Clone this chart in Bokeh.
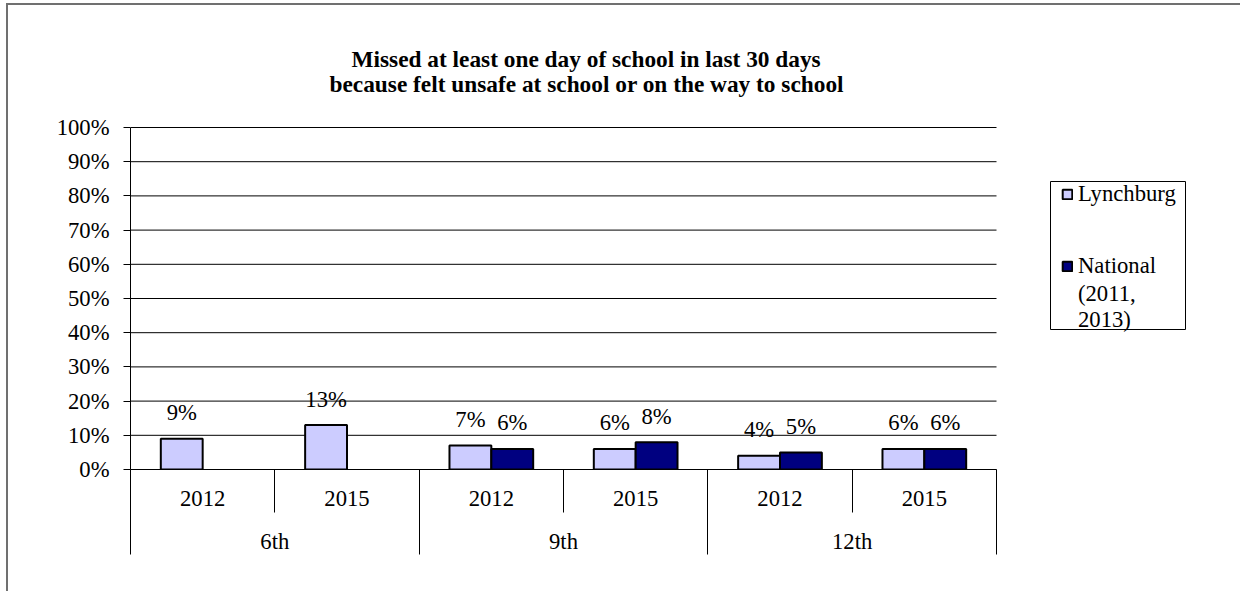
from bokeh.plotting import figure
from bokeh.models import (Range1d, FixedTicker, LinearAxis, Legend, LegendItem, ColumnDataSource,
                          Title, BoxAnnotation)
from bokeh.embed import file_html
from bokeh.resources import INLINE
from bokeh.core.properties import value

# ---------------- data ----------------
title_lines = ["Missed at least one day of school in last 30 days",
               "because felt unsafe at school or on the way to school"]
grades = ["6th", "9th", "12th"]
years = ["2012", "2015"]
lynchburg = [9, 13, 7, 6, 4, 6]
national = [None, None, 6, 8, 5, 6]
series_names = ["Lynchburg", "National", "(2011,\n2013)"]
y_ticks = [0, 10, 20, 30, 40, 50, 60, 70, 80, 90, 100]
y_tick_labels = ["0%", "10%", "20%", "30%", "40%", "50%", "60%", "70%", "80%", "90%", "100%"]

# ---------------- styling ----------------
FONT = "Liberation Serif"
FS = "17pt"
LYN_COLOR = "#CCCCFF"
NAT_COLOR = "#000080"

W, H = 1234, 588
ORIGIN_X, ORIGIN_Y = 8, 5           # where the canvas starts on the page
FRAME_L, FRAME_B = 130, 469
Y100 = 127                          # pixel row of the 100% line
FRAME_T = 96                        # frame extends above 100% so the titles sit higher
CAT_R, FRAME_R = 996, 1200          # right end of the category area / of the frame

n_slots = len(grades) * len(years)
slot = 2  # data units per year slot
bar_w = 0.58
x_cat_end = slot * n_slots
x_end = x_cat_end * (FRAME_R - FRAME_L) / (CAT_R - FRAME_L)
px_per_x = (CAT_R - FRAME_L) / x_cat_end
px_per_y = (FRAME_B - Y100) / 100
y_top = (FRAME_B - FRAME_T) / px_per_y

centers = [slot * i + slot / 2 for i in range(n_slots)]
year_labels = [years[i % len(years)] for i in range(n_slots)]

lyn_src = ColumnDataSource(dict(
    x=[c - bar_w / 2 for c in centers],
    top=lynchburg,
    txt=[f"{v}%" for v in lynchburg],
))
nat_x, nat_top, nat_txt = [], [], []
for c, v in zip(centers, national):
    if v is not None:
        nat_x.append(c + bar_w / 2)
        nat_top.append(v)
        nat_txt.append(f"{v}%")
nat_src = ColumnDataSource(dict(x=nat_x, top=nat_top, txt=nat_txt))

p = figure(width=W, height=H, output_backend="svg", toolbar_location=None, title=None,
           x_range=Range1d(0, x_end), y_range=Range1d(0, y_top),
           min_border_left=FRAME_L - ORIGIN_X, min_border_top=FRAME_T - ORIGIN_Y,
           min_border_right=ORIGIN_X + W - FRAME_R, min_border_bottom=ORIGIN_Y + H - FRAME_B,
           background_fill_color="white", border_fill_color="white")
p.styles = {"border-left": "2px solid #707070", "border-top": "2px solid #707070",
            "margin-left": "6px", "margin-top": "3px"}
p.outline_line_color = None

xa = p.below[0]   # default bottom axis -> year labels
ya = p.left[0]

# titles (first added = nearest to the frame)
for txt, off, so in [(title_lines[1], 199, 0), (title_lines[0], 221, -6)]:
    p.add_layout(Title(text=txt, align="left", offset=off, standoff=so, text_font=FONT,
                       text_font_size="17.5pt", text_font_style="bold", text_color="black"), "above")

# y axis
ya.ticker = FixedTicker(ticks=y_ticks)
ya.bounds = (0, 100)
ya.major_label_overrides = {t: l for t, l in zip(y_ticks, y_tick_labels)}
ya.major_label_text_font = FONT
ya.major_label_text_font_size = FS
ya.major_label_text_color = "black"
ya.axis_line_color = "black"
ya.major_tick_line_color = "black"
ya.major_tick_out = 7
ya.major_tick_in = 0
ya.minor_tick_line_color = None
ya.major_label_standoff = 14

p.xgrid.visible = False
p.ygrid.visible = False
# horizontal gridlines across the category area only
p.segment(x0=0, x1=x_cat_end, y0=y_ticks, y1=y_ticks, line_color="black", line_width=1)

# x axis (years)
xa.bounds = (0, x_cat_end)
xa.ticker = FixedTicker(ticks=centers, minor_ticks=[slot * i for i in range(n_slots + 1)])
xa.major_label_overrides = {c: l for c, l in zip(centers, year_labels)}
xa.major_label_text_font = FONT
xa.major_label_text_font_size = FS
xa.major_label_text_color = "black"
xa.axis_line_color = "black"
xa.major_tick_out = 0
xa.major_tick_in = 0
xa.minor_tick_out = 43
xa.minor_tick_in = 0
xa.minor_tick_line_color = "black"
xa.major_label_standoff = -22

# group axis
gw = slot * len(years)
g_centers = [gw * i + gw / 2 for i in range(len(grades))]
ga = LinearAxis(ticker=FixedTicker(ticks=g_centers, minor_ticks=[gw * i for i in range(len(grades) + 1)]))
ga.bounds = (0, x_cat_end)
ga.major_label_overrides = {c: l for c, l in zip(g_centers, grades)}
ga.major_label_text_font = FONT
ga.major_label_text_font_size = FS
ga.major_label_text_color = "black"
ga.axis_line_color = None
ga.major_tick_out = 0
ga.major_tick_in = 0
ga.minor_tick_out = 46
ga.minor_tick_in = 0
ga.minor_tick_line_color = "black"
ga.major_label_standoff = -26
p.add_layout(ga, "below")

# bars
r_lyn = p.vbar(x="x", top="top", bottom=0, width=bar_w, source=lyn_src,
               fill_color=LYN_COLOR, line_color="black", line_width=2)
r_nat = p.vbar(x="x", top="top", bottom=0, width=bar_w, source=nat_src,
               fill_color=NAT_COLOR, line_color="black", line_width=2)
r_blank = p.vbar(x=[], top=[], bottom=0, width=bar_w, fill_alpha=0, line_alpha=0)

for src in (lyn_src, nat_src):
    p.text(x="x", y="top", text="txt", source=src, text_align="center", text_baseline="middle",
           y_offset=-26, text_font=value(FONT), text_font_size=FS, text_color="black")

# legend box and legend entries
LEG_L, LEG_R, LEG_T, LEG_B = 1050, 1185, 181, 329
p.add_layout(BoxAnnotation(left=(LEG_L - FRAME_L) / px_per_x, right=(LEG_R - FRAME_L) / px_per_x,
                           top=(FRAME_B - LEG_T) / px_per_y, bottom=(FRAME_B - LEG_B) / px_per_y,
                           fill_alpha=0, line_color="black", line_width=1, line_alpha=1))

leg_style = dict(border_line_color=None, background_fill_alpha=0,
                 label_text_font=FONT, label_text_font_size=FS, label_text_color="black",
                 glyph_width=12, glyph_height=12, label_standoff=5, padding=0, spacing=2, margin=0)
leg_a = Legend(items=[LegendItem(label=series_names[0], renderers=[r_lyn])],
               location=(1061 - FRAME_L, FRAME_B - 207), **leg_style)
leg_b = Legend(items=[LegendItem(label=series_names[1], renderers=[r_nat])],
               location=(1061 - FRAME_L, FRAME_B - 333), **leg_style)
leg_b.items.append(LegendItem(label=series_names[2], renderers=[r_blank]))
p.add_layout(leg_a)
p.add_layout(leg_b)

open("out.html", "w").write(file_html(p, INLINE))
